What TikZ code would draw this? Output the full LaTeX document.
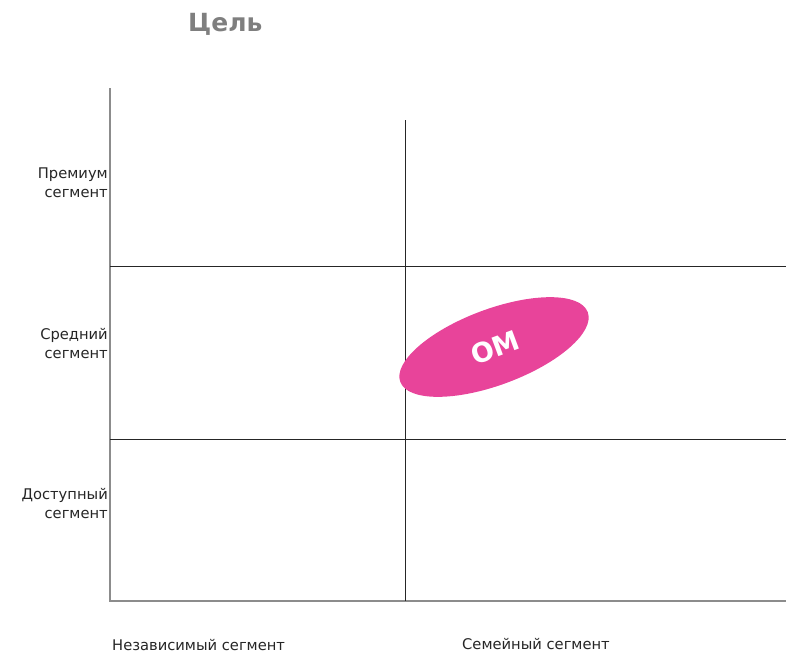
\documentclass[tikz,border=0pt]{standalone}
\usepackage{fontspec}
\setmainfont{DejaVu Sans}
\definecolor{pinkom}{HTML}{E8449A}
\definecolor{titlegray}{HTML}{7F7F7F}
\definecolor{axisgray}{HTML}{8C8C8C}
\begin{document}
\begin{tikzpicture}[x=1pt,y=-1pt,
  axis/.style={draw=axisgray,line width=1.3pt},
  grid/.style={draw=black!85,line width=1pt},
  ylab/.style={anchor=east,align=right,font=\fontsize{14.7}{19}\selectfont,text=black!85,inner sep=0pt},
  xlab/.style={anchor=west,font=\fontsize{14.7}{17}\selectfont,text=black!85,inner sep=0pt}]
\useasboundingbox (0,0) rectangle (786,654);
\node[text=titlegray,font=\fontsize{25}{28}\selectfont\bfseries,anchor=west,inner sep=0pt] (title) at (188,24) {Цель};
% axes
\coordinate (o) at (110,601);
\coordinate (ytop) at (110,88);
\coordinate (xend) at (786,601);
\draw[axis] (ytop) -- (o) -- (xend);
% grid
\coordinate (mtop) at (405,120);
\coordinate (mbot) at (405,601);
\coordinate (h1l) at (110,266);
\coordinate (h1r) at (786,266);
\coordinate (h2l) at (110,439);
\coordinate (h2r) at (786,439);
\draw[grid] (mtop) -- (mbot);
\draw[grid] (h1l) -- (h1r);
\draw[grid] (h2l) -- (h2r);
% ellipse
\fill[pinkom,rotate around={20.4:(494,347)}] (494,347) ellipse [x radius=100, y radius=38];
\node[text=white,font=\fontsize{27}{30}\selectfont\bfseries,rotate=20.4] (om) at (495,348) {OM};
% labels
\node[ylab] (l1) at (108,183) {Премиум\\сегмент};
\node[ylab] (l2) at (108,344) {Средний\\сегмент};
\node[ylab] (l3) at (108,504) {Доступный\\сегмент};
\node[xlab] (b1) at (112,645) {Независимый сегмент};
\node[xlab] (b2) at (462,644) {Семейный сегмент};
\end{tikzpicture}
\end{document}
